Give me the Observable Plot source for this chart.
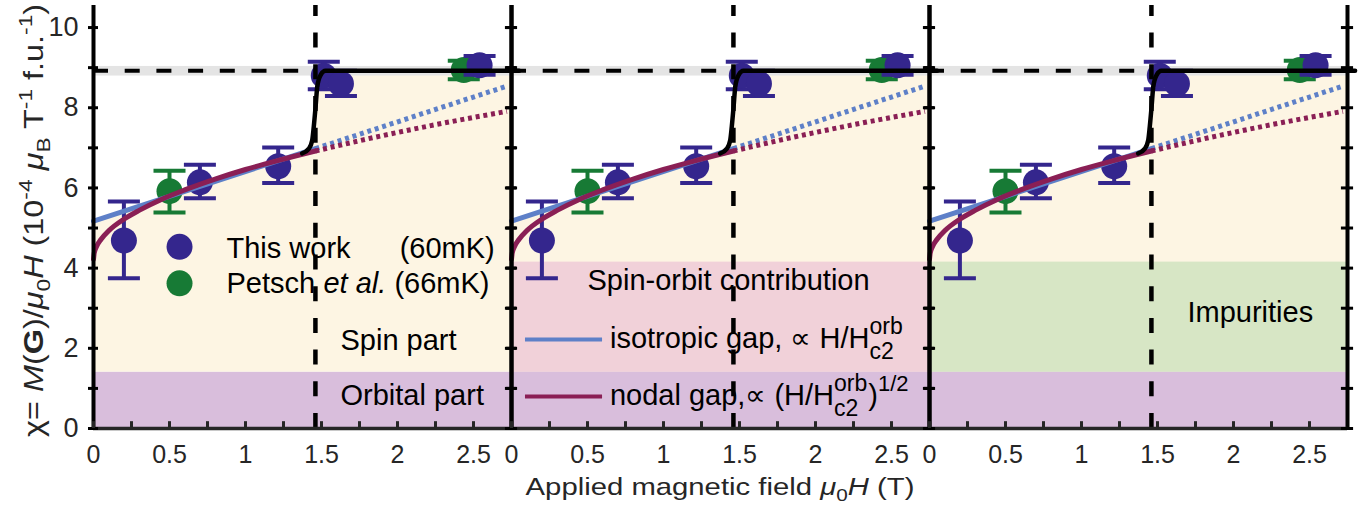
<!DOCTYPE html>
<html>
<head>
<meta charset="utf-8">
<script src="https://cdn.jsdelivr.net/npm/d3@7"></script>
<script src="https://cdn.jsdelivr.net/npm/@observablehq/plot@0.6"></script>
<style>
  body { margin: 0; background: #fff; }
  #chart svg { font-family: "Liberation Sans", Arial, Helvetica, sans-serif; }
</style>
</head>
<body>
<div id="chart"></div>
<script>
// ---------- data ----------
const panels = [0, 1, 2];
const xTickLabels = [0, 0.5, 1, 1.5, 2, 2.5];
const xMinorTicks = [0, 0.25, 0.5, 0.75, 1, 1.25, 1.5, 1.75, 2, 2.25, 2.5];
const yTickLabels = [0, 2, 4, 6, 8, 10];
const yMinorTicks = [0, 1, 2, 3, 4, 5, 6, 7, 8, 9, 10];

// This work (60 mK)
const thisWorkX  = [0.2, 0.7, 1.215, 1.515, 1.628, 2.54];
const thisWorkY  = [4.69, 6.14, 6.54, 8.80, 8.60, 9.06];
const thisWorkLo = [3.75, 5.74, 6.12, 8.46, 8.29, 8.82];
const thisWorkHi = [5.66, 6.58, 7.01, 9.15, 8.92, 9.29];
// Petsch et al. (66 mK)
const petschX  = [0.5, 2.436];
const petschY  = [5.92, 8.94];
const petschLo = [5.39, 8.71];
const petschHi = [6.43, 9.17];

// isotropic gap curve (solid below Hc, dotted above)
const isoSolidX = [0, 1.46];
const isoSolidY = [5.17, 6.98];
const isoDotX = [1.46, 2.72];
const isoDotY = [6.98, 8.54];
// nodal gap curve
const nodalSolidX = [0, 0.005, 0.02, 0.05, 0.1, 0.2, 0.3, 0.45, 0.6, 0.8, 1.0, 1.2, 1.46];
const nodalSolidY = [4.22, 4.38, 4.54, 4.72, 4.93, 5.22, 5.44, 5.72, 5.95, 6.22, 6.46, 6.67, 6.92];
const nodalDotX = [1.46, 1.8, 2.2, 2.72];
const nodalDotY = [6.92, 7.22, 7.54, 7.91];
// step to normal state
const stepX = [1.373, 1.417, 1.439, 1.449, 1.461, 1.472, 1.493, 1.526, 2.80];
const stepY = [6.86, 6.98, 7.19, 7.52, 8.02, 8.52, 8.81, 8.92, 8.92];
// upper edge of the spin-part area
const spinEdgeX = [0, 1.373, 1.417, 1.439, 1.449, 1.461, 1.472, 1.493, 1.526, 2.75];
const spinEdgeY = [5.17, 6.86, 6.98, 7.19, 7.52, 8.02, 8.52, 8.81, 8.92, 8.92];

const normalLevel = 8.92;       // normal-state value
const normalBand = [8.79, 9.03]; // its uncertainty
const hc = 1.46;                 // transition field
const orbitalTop = 1.4;          // orbital part 0 .. 1.4
const contributionTop = 4.15;    // spin-orbit / impurities 1.4 .. 4.15

// ---------- tables ----------
const thisWork = thisWorkX.map((x, i) => ({x, y: thisWorkY[i], lo: thisWorkLo[i], hi: thisWorkHi[i]}));
const petsch = petschX.map((x, i) => ({x, y: petschY[i], lo: petschLo[i], hi: petschHi[i]}));
const zip = (xs, ys) => xs.map((x, i) => ({x, y: ys[i]}));

const C = {
  indigo: "#34268D", green: "#177A35", blueLine: "#5E80C8", wine: "#8A1F55",
  cream: "#FDF5E3", purple: "#D9BEDC", pink: "#F1D1D9", lime: "#D7E6C5", grey: "#E4E4E4",
  axis: "#262626"
};
const capSymbol = {draw(ctx, size) { const r = Math.sqrt(size / Math.PI); ctx.moveTo(-r, 0); ctx.lineTo(r, 0); }};
const xEnd = 2.75, yTop = 10.55;

function errorMarks(tbl, color) {
  return [
    Plot.ruleX(tbl, {x: "x", y1: "lo", y2: "hi", stroke: color, strokeWidth: 4}),
    Plot.dot(tbl, {x: "x", y: "lo", symbol: capSymbol, r: 16, stroke: color, strokeWidth: 4, fill: "none"}),
    Plot.dot(tbl, {x: "x", y: "hi", symbol: capSymbol, r: 16, stroke: color, strokeWidth: 4, fill: "none"}),
    Plot.dot(tbl, {x: "x", y: "y", r: 13, fill: color, stroke: "none"})
  ];
}
const T = {fontSize: 29, fill: "black", lineAnchor: "bottom"};
const fmt = d => String(d);
const dotted = {strokeWidth: 5, strokeDasharray: "4,3.8", strokeLinecap: "butt"};

const plot = Plot.plot({
  width: 1364, height: 512,
  marginLeft: 93, marginRight: 17, marginTop: 5, marginBottom: 84,
  x: {domain: [0, xEnd]},
  y: {domain: [0, yTop]},
  fx: {domain: panels, padding: 0, axis: null, label: null},
  style: {fontFamily: "Liberation Sans, Arial, sans-serif", background: "white", overflow: "visible"},
  marks: [
    Plot.areaY(zip(spinEdgeX, spinEdgeY), {x: "x", y1: orbitalTop, y2: "y", fill: C.cream}),
    Plot.rect([contributionTop], {y1: orbitalTop, y2: d => d, fx: () => 1, fill: C.pink}),
    Plot.rect([contributionTop], {y1: orbitalTop, y2: d => d, fx: () => 2, fill: C.lime}),
    Plot.rect([orbitalTop], {y1: 0, y2: d => d, fill: C.purple}),
    Plot.rect([normalBand], {y1: d => d[0], y2: d => d[1], fill: C.grey}),
    ...errorMarks(petsch, C.green),
    ...errorMarks(thisWork, C.indigo),
    Plot.line(zip(isoSolidX, isoSolidY), {x: "x", y: "y", stroke: C.blueLine, strokeWidth: 5}),
    Plot.line(zip(isoDotX, isoDotY), {x: "x", y: "y", stroke: C.blueLine, ...dotted}),
    Plot.line(zip(nodalSolidX, nodalSolidY), {x: "x", y: "y", stroke: C.wine, strokeWidth: 5, curve: "monotone-x"}),
    Plot.line(zip(nodalDotX, nodalDotY), {x: "x", y: "y", stroke: C.wine, ...dotted, curve: "monotone-x"}),
    Plot.ruleY([normalLevel], {x1: 0, x2: hc, stroke: "black", strokeWidth: 4, strokeDasharray: "15,16.7"}),
    Plot.line(zip(stepX, stepY), {x: "x", y: "y", stroke: "black", strokeWidth: 4.5, curve: "monotone-x"}),
    Plot.ruleX([hc], {y1: 0, y2: yTop, stroke: "black", strokeWidth: 4.5, strokeDasharray: "15,16.7"}),
    // frame
    Plot.ruleX([0, xEnd], {y1: 0, y2: yTop, stroke: "black", strokeWidth: 4}),
    Plot.ruleY([0], {x1: 0, x2: xEnd, stroke: C.axis, strokeWidth: 3.5}),
    Plot.ruleY(yMinorTicks, {x1: -0.033, x2: 0.033, stroke: "black", strokeWidth: 3}),
    Plot.ruleY(yMinorTicks, {x1: xEnd - 0.04, x2: xEnd + 0.04, stroke: "black", strokeWidth: 3}),
    Plot.ruleX(xMinorTicks, {y1: 0, y2: 0.17, stroke: C.axis, strokeWidth: 3}),
    Plot.axisX({ticks: xTickLabels, tickFormat: fmt, tickSize: 0, tickPadding: 17, fontSize: 25, fill: C.axis, label: null}),
    Plot.axisY({ticks: yTickLabels, tickFormat: fmt, tickSize: 0, tickPadding: 15, fontSize: 27, fill: C.axis, label: null}),
    // legend, panel 1
    Plot.dot(["This work"], {x: 0.566, y: 4.53, fx: () => 0, r: 13, fill: C.indigo}),
    Plot.dot(["Petsch"], {x: 0.566, y: 3.62, fx: () => 0, r: 13, fill: C.green}),
    Plot.text(["This work"], {...T, x: 0.875, y: 4.245, fx: () => 0, text: d => d, textAnchor: "start"}),
    Plot.text(["(60mK)"], {...T, x: 2.64, y: 4.245, fx: () => 0, text: d => d, textAnchor: "end"}),
    Plot.text(["Petsch"], {...T, x: 0.875, y: 3.37, fx: () => 0, text: d => d, textAnchor: "start"}),
    Plot.text(["et al."], {...T, x: 1.513, y: 3.37, fx: () => 0, text: d => d, textAnchor: "start", fontStyle: "italic"}),
    Plot.text(["(66mK)"], {...T, x: 2.605, y: 3.37, fx: () => 0, text: d => d, textAnchor: "end"}),
    Plot.text(["Spin part"], {...T, x: 1.625, y: 1.95, fx: () => 0, text: d => d, textAnchor: "start"}),
    Plot.text(["Orbital part"], {...T, x: 1.625, y: 0.574, fx: () => 0, text: d => d, textAnchor: "start"}),
    // panel 2
    Plot.text(["Spin-orbit contribution"], {...T, x: 1.428, y: 3.445, fx: () => 1, text: d => d, textAnchor: "middle"}),
    Plot.ruleY([2.22], {x1: 0.092, x2: 0.599, fx: () => 1, stroke: C.blueLine, strokeWidth: 4}),
    Plot.ruleY([0.80], {x1: 0.092, x2: 0.599, fx: () => 1, stroke: C.wine, strokeWidth: 4}),
    // panel 3
    Plot.text(["Impurities"], {...T, x: 1.697, y: 2.647, fx: () => 2, text: d => d, textAnchor: "start"})
  ]
});
document.getElementById("chart").append(plot);

// ---------- rich text labels ----------
const svg = d3.select(plot);
const sx = plot.scale("x"), sy = plot.scale("y"), sfx = plot.scale("fx");
const PX = (panel, v) => sfx.apply(panel) + (sx.apply(v) - sx.range[0]);
const PY = v => sy.apply(v);

function rich(parent, segs, attrs) {
  const t = parent.append("text").attr("text-anchor", "start");
  for (const [k, v] of Object.entries(attrs)) t.attr(k, v);
  let cur = 0;
  const spans = [];
  for (const s of segs) {
    const sp = t.append("tspan").text(s.t);
    const shift = s.shift || 0;
    if (shift !== cur) { sp.attr("dy", shift - cur); cur = shift; }
    if (s.italic) sp.attr("font-style", "italic");
    if (s.bold) sp.attr("font-weight", "bold");
    if (s.size) sp.attr("font-size", s.size);
    spans.push(sp);
  }
  return {t, spans};
}

const g = svg.append("g").attr("font-family", "Liberation Sans, Arial, sans-serif").attr("text-anchor", "start");

// y label
rich(g, [
  {t: "χ= "}, {t: "M", italic: true}, {t: "("}, {t: "G", bold: true}, {t: ")/"},
  {t: "μ", italic: true}, {t: "0", shift: 7, size: 19}, {t: "H", italic: true},
  {t: " (10"}, {t: "-4", shift: -11, size: 19}, {t: " "}, {t: "μ", italic: true},
  {t: "B", shift: 7, size: 19}, {t: " T"}, {t: "-1", shift: -11, size: 19},
  {t: " f.u."}, {t: "-1", shift: -11, size: 19}, {t: ")"}
], {transform: "translate(43,437) rotate(-90) scale(1.2,1)", "font-size": 27, fill: C.axis, "text-anchor": "start"});

// x label
rich(g, [
  {t: "Applied magnetic field "}, {t: "μ", italic: true}, {t: "0", shift: 6, size: 17},
  {t: "H", italic: true}, {t: " (T)"}
], {transform: `translate(${PX(1, xEnd / 2)},495) scale(1.22,1)`, "font-size": 24, fill: C.axis, "text-anchor": "middle"});

// panel-2 legend formulas
function formula(base, yv, tail) {
  const x0 = PX(1, 0.651), y0 = PY(yv);
  const r = rich(g, [{t: base}, {t: "orb", shift: -14, size: 23}], {x: x0, y: y0, "font-size": 29, fill: "black"});
  const orbNode = r.spans[1].node();
  const xs = orbNode.getStartPositionOfChar(0).x;
  const wOrb = orbNode.getComputedTextLength();
  g.append("text").attr("text-anchor", "start").attr("x", xs).attr("y", y0 + 11)
    .attr("font-size", 23).attr("fill", "black").text("c2");
  if (tail) {
    rich(g, [{t: ")"}, {t: "1/2", shift: -14, size: 22}], {x: xs + wOrb + 1, y: y0, "font-size": 29, fill: "black"});
  }
}
formula("isotropic gap, ∝ H/H", 2.0, false);
formula("nodal gap,∝ (H/H", 0.574, true);
</script>
</body>
</html>
